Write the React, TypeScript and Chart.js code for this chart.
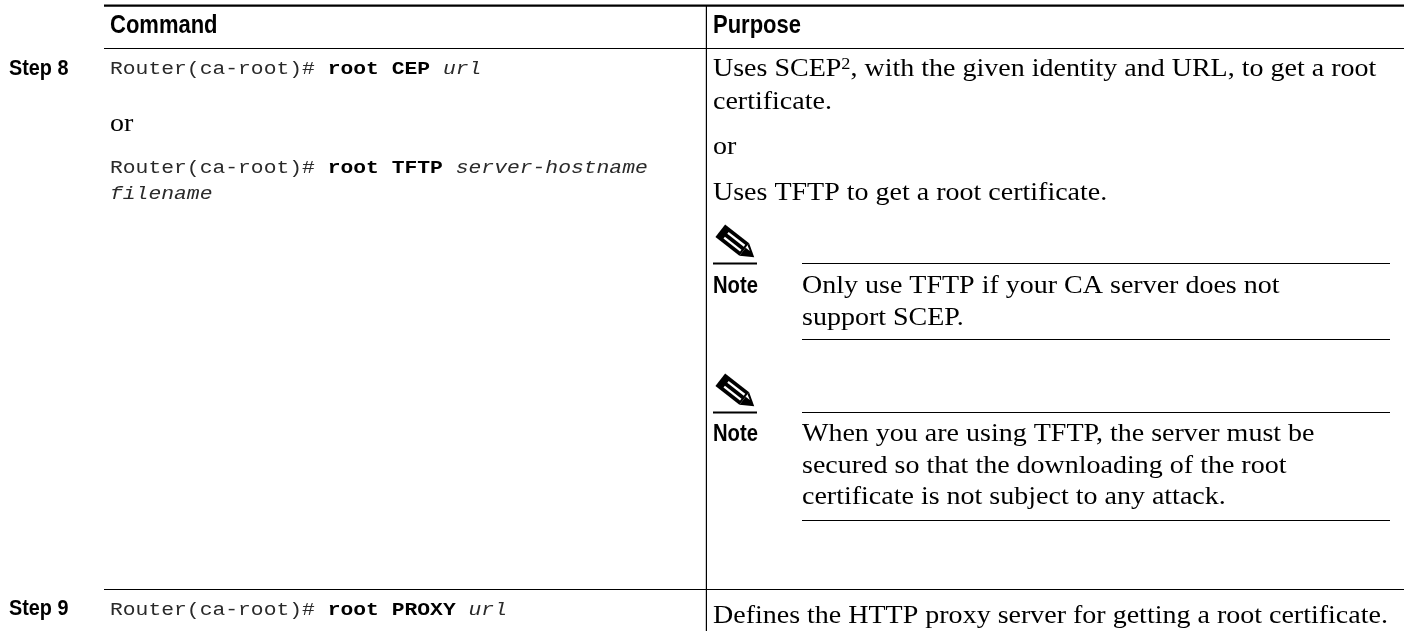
import React, { useEffect, useRef } from "react";
import { Chart, registerables } from "chart.js";

Chart.register(...registerables);

// Content of the table
const headers = ["Command", "Purpose"];
const steps = ["Step 8", "Step 9"];
const commandPrompt = "Router(ca-root)# ";
const commandKeywords = ["root CEP", "root TFTP", "root PROXY"];
const commandArgs = ["url", "server-hostname", "url"];
const commandWrap = "filename";
const orLabel = "or";
const purposeStep8 = ["certificate.", "or", "Uses TFTP to get a root certificate."];
const purposeStep9 = "Defines the HTTP proxy server for getting a root certificate.";
const purposeScepStart = "Uses SCEP";
const purposeScepNote = "2";
const purposeScepEnd = ", with the given identity and URL, to get a root";
const noteLabel = "Note";
const noteOne = ["Only use TFTP if your CA server does not", "support SCEP."];
const noteTwo = [
  "When you are using TFTP, the server must be",
  "secured so that the downloading of the root",
  "certificate is not subject to any attack.",
];

const W = 1404;
const H = 631;
const COLX = { step: 9, cmd: 110, purpose: 713, note: 802 };
const SERIF = '"Liberation Serif"';
const MONO = '"Liberation Mono"';
const SANS = '"Liberation Sans"';
const SX_SANS = 0.88;
const SX_SERIF = 1.077;
const SX_MONO = 1.123;
const MONO_COLOR = "#2a2a2a";

const rule = (x1: number, x2: number, y: number, w: number) => ({
  type: "line" as const,
  data: [{ x: x1, y }, { x: x2, y }],
  borderColor: "#000",
  borderWidth: w,
  pointRadius: 0,
  showLine: true,
});

const tablePlugin = {
  id: "tableText",
  afterDraw(chart: any) {
    const { ctx, scales } = chart;
    const px = (v: number) => scales.x.getPixelForValue(v);
    const py = (v: number) => scales.y.getPixelForValue(v);
    ctx.save();
    ctx.textBaseline = "alphabetic";
    const put = (s: string, x: number, y: number, font: string, sx = 1, color = "#000") => {
      ctx.save();
      ctx.font = font;
      ctx.fillStyle = color;
      ctx.translate(px(x), py(y));
      ctx.scale(sx, 1);
      ctx.fillText(s, 0, 0);
      const w = ctx.measureText(s).width;
      ctx.restore();
      return x + w * sx;
    };
    const heads = `bold 25px ${SANS}`;
    put(headers[0], COLX.cmd, 33, heads, SX_SANS);
    put(headers[1], COLX.purpose, 33, heads, SX_SANS);
    const stepFont = `bold 22.5px ${SANS}`;
    put(steps[0], COLX.step, 75, stepFont, SX_SANS);
    put(steps[1], COLX.step, 615, stepFont, SX_SANS);

    const cmd = (y: number, i: number) => {
      let x = put(commandPrompt, COLX.cmd, y, `19px ${MONO}`, SX_MONO, MONO_COLOR);
      x = put(commandKeywords[i] + " ", x, y, `bold 19px ${MONO}`, SX_MONO);
      put(commandArgs[i], x, y, `italic 19px ${MONO}`, SX_MONO, MONO_COLOR);
    };
    cmd(74, 0);
    put(orLabel, COLX.cmd, 131, `26px ${SERIF}`, SX_SERIF);
    cmd(173, 1);
    put(commandWrap, COLX.cmd, 199, `italic 19px ${MONO}`, SX_MONO, MONO_COLOR);
    cmd(615, 2);

    const body = `26px ${SERIF}`;
    let x = put(purposeScepStart, COLX.purpose, 76, body, SX_SERIF);
    x = put(purposeScepNote, x, 69, `17px ${SERIF}`, SX_SERIF);
    put(purposeScepEnd, x, 76, body, SX_SERIF);
    [109, 154, 200].forEach((y, i) => put(purposeStep8[i], COLX.purpose, y, body, SX_SERIF));
    put(purposeStep9, COLX.purpose, 623, body, SX_SERIF);

    const noteFont = `bold 23px ${SANS}`;
    put(noteLabel, COLX.purpose, 293, noteFont, SX_SANS);
    put(noteLabel, COLX.purpose, 441, noteFont, SX_SANS);
    [293, 325].forEach((y, i) => put(noteOne[i], COLX.note, y, body, SX_SERIF));
    [441, 473, 504].forEach((y, i) => put(noteTwo[i], COLX.note, y, body, SX_SERIF));

    // pencil glyph of the two notes
    [0, 149].forEach((dy) => {
      ctx.save();
      ctx.translate(px(736), py(243 + dy));
      ctx.rotate((38 * Math.PI) / 180);
      ctx.scale(1.05, 1.05);
      ctx.fillStyle = "#000";
      ctx.fillRect(-19, -7.5, 29, 15);
      ctx.beginPath();
      ctx.moveTo(10, -7.5);
      ctx.lineTo(22, 0);
      ctx.lineTo(10, 7.5);
      ctx.closePath();
      ctx.fill();
      ctx.fillStyle = "#fff";
      ctx.fillRect(-12, -4, 20, 2.2);
      ctx.fillRect(-12, 1.8, 20, 2.2);
      ctx.beginPath();
      ctx.moveTo(10, -5);
      ctx.lineTo(15, -2.2);
      ctx.lineTo(10, -2.2);
      ctx.closePath();
      ctx.fill();
      ctx.restore();
    });
    ctx.restore();
  },
};

export default function App() {
  const ref = useRef<HTMLCanvasElement>(null);
  useEffect(() => {
    document.body.style.margin = "0";
    const chart = new Chart(ref.current!, {
      type: "scatter",
      data: {
        datasets: [
          rule(104, W, 5.6, 2.4),
          rule(104, W, 48.5, 1.2),
          rule(104, W, 589.5, 1.2),
          {
            ...rule(0, 0, 0, 1.2),
            data: [{ x: 706.4, y: 5 }, { x: 706.4, y: H }],
          },
          rule(713, 757, 263.5, 2),
          rule(802, 1390, 263.5, 1.2),
          rule(802, 1390, 339.5, 1.2),
          rule(713, 757, 412.5, 2),
          rule(802, 1390, 412.5, 1.2),
          rule(802, 1390, 520.5, 1.2),
        ],
      } as any,
      options: {
        animation: false,
        responsive: false,
        layout: { padding: 0 },
        plugins: { legend: { display: false }, tooltip: { enabled: false } },
        scales: {
          x: { type: "linear", min: 0, max: W, display: false },
          y: { type: "linear", min: 0, max: H, reverse: true, display: false },
        },
      },
      plugins: [tablePlugin],
    });
    return () => chart.destroy();
  }, []);
  return (
    <div style={{ width: W, height: H, background: "#fff" }}>
      <canvas ref={ref} width={W} height={H} style={{ display: "block" }} />
    </div>
  );
}
